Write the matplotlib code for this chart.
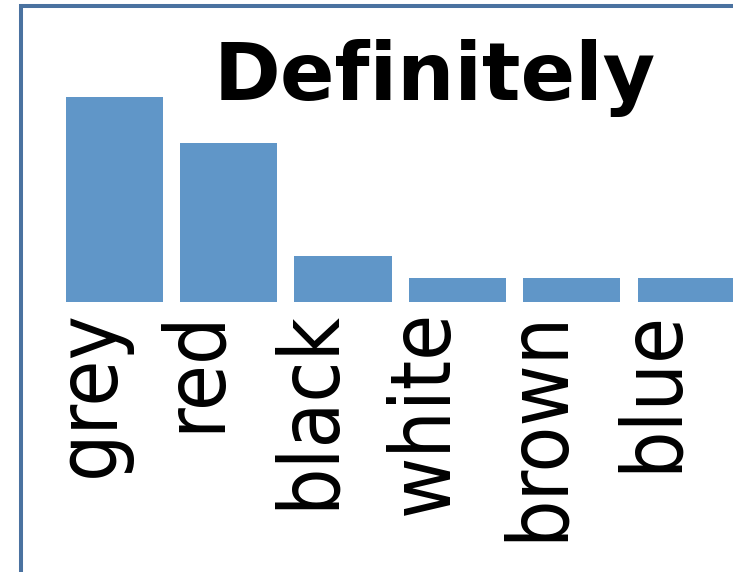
import matplotlib
matplotlib.use("Agg")
import matplotlib.pyplot as plt
from matplotlib.patches import Rectangle
from matplotlib.transforms import ScaledTranslation

colours = ["grey", "red", "black", "white", "brown", "blue"]
counts = [8.5, 6.6, 1.9, 1.0, 1.0, 1.0]
title = "Definitely"

W, H = 733, 572
fig = plt.figure(figsize=(W / 100, H / 100), dpi=100)

# axes fill the width, baseline at y=302px
ax = fig.add_axes([0, (H - 302) / H, 1, 302 / H])
ax.bar(range(len(colours)), counts, width=0.85, color="#6096c8")
ax.set_xlim(-1.0, 5.41)
ax.set_ylim(0, 12.5)
ax.set_xticks([])
ax.set_yticks([])
for s in ax.spines.values():
    s.set_visible(False)
ax.patch.set_visible(False)

# category labels, read upwards, baseline on the bar centre
# (agg puts words without descenders ~10px too far right, so nudge them)
for i, name in enumerate(colours):
    dx = 0 if any(c in name for c in "gjpqy") else -10
    off = ScaledTranslation(dx / 100, -8 / 100, fig.dpi_scale_trans)
    ax.text(i, 0, name, transform=ax.get_xaxis_transform() + off,
            rotation=90, rotation_mode="anchor", ha="right", va="baseline",
            fontsize=60, fontstretch="condensed")

fig.text(435 / W, 1 - 100 / H, title, fontsize=58, fontweight="bold",
         ha="center", va="baseline")

# blue frame round the panel
fig.patches.append(Rectangle((21 / W, -0.1), 1.2, 0.1 + 1 - 6 / H,
                             transform=fig.transFigure, fill=False,
                             edgecolor="#4a72a0", linewidth=2.9))

fig.savefig("out.png", dpi=100)
